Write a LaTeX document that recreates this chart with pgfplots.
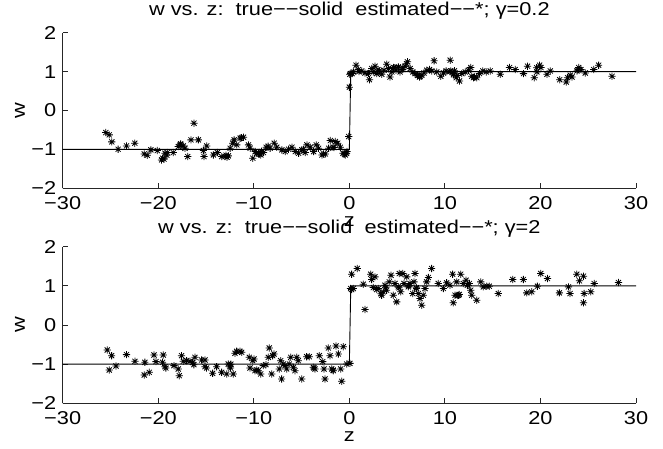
\documentclass[border=0pt]{standalone}
\usepackage{pgfplots}
\pgfplotsset{compat=1.18}
\usepackage{fontspec}
\setmainfont{Liberation Sans}[FakeStretch=1.17]

% MATLAB-like '*' marker (plus and cross)
\pgfdeclareplotmark{mstar}{%
  \pgfpathmoveto{\pgfqpoint{-\pgfplotmarksize}{0pt}}\pgfpathlineto{\pgfqpoint{\pgfplotmarksize}{0pt}}%
  \pgfpathmoveto{\pgfqpoint{0pt}{-\pgfplotmarksize}}\pgfpathlineto{\pgfqpoint{0pt}{\pgfplotmarksize}}%
  \pgfpathmoveto{\pgfqpoint{-.707\pgfplotmarksize}{-.707\pgfplotmarksize}}\pgfpathlineto{\pgfqpoint{.707\pgfplotmarksize}{.707\pgfplotmarksize}}%
  \pgfpathmoveto{\pgfqpoint{-.707\pgfplotmarksize}{.707\pgfplotmarksize}}\pgfpathlineto{\pgfqpoint{.707\pgfplotmarksize}{-.707\pgfplotmarksize}}%
  \pgfusepathqstroke}

\pgfplotstableread{
z w
-30 -1
0 -1
0.15 1
30 1
}\truedata

\pgfplotstableread{
z w
-25.49 -0.567
-25.13 -0.627
-24.86 -0.807
-24.20 -0.996
-23.32 -0.910
-22.45 -0.841
-21.47 -1.116
-21.15 -1.150
-20.77 -1.013
-20.10 -1.030
-19.65 -1.270
-19.55 -1.227
-19.40 -1.250
-19.30 -1.099
-19.10 -1.150
-19.06 -1.082
-18.43 -1.082
-17.90 -0.927
-17.70 -0.880
-17.66 -0.858
-17.38 -0.910
-17.20 -0.970
-16.92 -1.185
-16.57 -0.755
-16.26 -0.326
-15.80 -0.755
-15.28 -1.030
-15.21 -1.185
-14.93 -0.910
-14.23 -1.142
-13.81 -1.082
-13.36 -1.185
-13.01 -1.185
-12.90 -1.150
-12.80 -1.200
-12.66 -1.167
-12.48 -0.970
-12.20 -0.841
-12.06 -0.755
-11.78 -0.884
-11.43 -0.712
-11.30 -0.700
-11.08 -0.687
-10.56 -0.884
-10.38 -0.970
-10.10 -1.227
-9.86 -1.056
-9.70 -1.100
-9.51 -1.099
-9.40 -1.120
-9.27 -1.142
-9.20 -1.050
-8.99 -1.082
-8.71 -0.944
-8.50 -0.920
-8.29 -0.970
-7.87 -0.841
-7.59 -0.944
-7.06 -1.013
-6.71 -1.056
-6.36 -0.996
-6.01 -0.944
-5.66 -1.056
-5.31 -1.099
-4.97 -1.013
-4.80 -1.000
-4.62 -1.082
-4.44 -0.884
-4.09 -0.944
-3.74 -1.056
-3.46 -0.884
-3.22 -0.970
-2.87 -1.142
-2.70 -1.120
-2.52 -1.116
-2.17 -0.970
-1.99 -0.773
-1.71 -0.944
-1.60 -0.950
-1.47 -0.798
-1.22 -0.841
-0.94 -0.944
-0.66 -1.099
-0.50 -1.120
-0.42 -1.142
-0.30 -1.100
-0.24 -1.056
-0.07 -0.670
0.00 0.600
0.05 0.930
0.14 0.948
0.30 0.950
0.42 0.991
0.70 1.165
0.94 1.052
1.00 1.000
1.29 1.017
1.64 0.965
2.00 0.950
2.10 0.792
2.34 1.078
2.51 0.991
2.69 1.139
2.86 0.948
3.00 1.050
3.14 1.017
3.39 0.931
3.63 1.035
3.91 1.190
4.09 1.078
4.26 0.861
4.44 0.991
4.61 1.104
4.70 1.100
4.89 1.035
5.13 1.121
5.31 0.991
5.59 1.052
5.60 1.100
5.83 1.139
6.00 1.200
6.08 1.251
6.36 1.078
6.64 0.991
6.88 0.948
7.13 0.905
7.20 0.900
7.34 0.861
7.40 0.880
7.58 0.905
7.82 0.965
8.10 1.035
8.38 1.052
8.63 1.017
8.87 1.277
9.15 0.991
9.57 0.879
9.85 0.965
10.13 1.017
10.50 1.000
10.55 1.294
10.62 1.017
10.90 0.948
10.90 0.920
11.00 1.020
11.18 0.844
11.30 0.900
11.53 0.758
11.77 0.948
12.12 0.991
12.47 1.035
12.71 1.104
12.80 0.880
12.99 0.844
13.10 0.860
13.34 0.844
13.62 0.948
13.97 1.017
14.32 0.991
14.74 1.017
15.79 0.931
16.77 1.104
17.36 1.052
18.23 0.948
18.65 1.139
19.35 0.844
19.60 1.100
19.63 0.991
19.91 1.165
20.05 1.104
20.68 0.931
21.03 1.017
22.01 0.792
22.70 0.732
22.84 0.844
23.12 0.905
23.30 0.860
23.82 1.017
23.90 1.040
24.00 1.104
24.24 1.052
24.69 0.965
25.57 1.052
26.09 1.165
27.49 0.879
}\estA

\pgfplotstableread{
z w
-25.34 -0.638
-25.13 -1.149
-24.88 -0.783
-24.42 -1.047
-23.32 -0.757
-22.44 -0.928
-21.47 -1.277
-21.40 -0.953
-20.94 -1.209
-20.45 -0.766
-20.24 -0.936
-19.55 -0.953
-19.48 -0.766
-19.30 -1.064
-19.20 -1.098
-18.36 -1.038
-17.91 -1.123
-17.80 -1.294
-17.56 -0.783
-17.38 -0.928
-17.03 -0.911
-16.68 -0.928
-16.40 -0.953
-16.27 -1.013
-16.16 -0.826
-15.46 -0.894
-15.11 -0.894
-15.11 -1.064
-14.94 -1.098
-14.31 -1.234
-13.89 -1.064
-13.37 -1.209
-12.84 -1.251
-12.67 -0.996
-12.50 -1.064
-12.43 -1.098
-12.40 -1.000
-12.15 -1.251
-11.97 -0.723
-11.80 -0.672
-11.45 -0.672
-11.27 -0.698
-10.47 -0.826
-10.40 -1.098
-10.12 -0.911
-9.98 -0.868
-9.88 -1.166
-9.70 -1.150
-9.53 -1.166
-9.28 -1.251
-9.01 -1.038
-8.73 -1.013
-8.48 -0.826
-8.38 -0.587
-8.13 -1.251
-8.03 -0.783
-7.89 -0.740
-7.33 -1.123
-7.19 -0.911
-7.09 -1.379
-6.91 -0.996
-6.74 -1.038
-6.56 -1.123
-6.28 -0.996
-6.14 -0.826
-5.86 -1.081
-5.69 -1.166
-5.51 -0.826
-5.34 -0.911
-4.99 -1.379
-4.47 -0.809
-4.19 -0.809
-3.77 -1.081
-3.70 -1.100
-3.60 -1.123
-3.14 -0.783
-2.79 -0.936
-2.65 -1.123
-2.55 -1.379
-2.20 -0.587
-2.02 -0.783
-1.85 -1.123
-1.70 -1.150
-1.68 -1.166
-1.40 -0.536
-1.15 -0.740
-0.91 -1.123
-0.80 -1.438
-0.63 -0.553
-0.28 -0.996
0.06 -0.980
0.13 0.932
0.24 0.906
0.41 0.932
0.24 1.298
0.83 1.443
1.46 1.043
1.63 0.396
2.23 1.298
2.33 1.162
2.51 0.957
2.68 1.230
2.86 0.906
3.03 0.932
3.30 0.800
3.38 0.762
3.55 0.847
3.73 1.017
3.80 0.950
3.90 0.889
4.18 1.102
4.36 1.272
4.60 0.762
4.78 1.060
4.95 0.591
5.12 0.974
5.20 0.950
5.23 1.315
5.37 0.847
5.58 1.315
5.72 1.060
6.00 1.230
6.17 0.974
6.20 1.000
6.35 1.060
6.63 0.804
6.76 1.102
6.87 1.315
7.00 0.950
7.04 0.932
7.22 0.804
7.39 0.677
7.57 0.506
7.74 0.762
7.92 0.932
8.09 1.102
8.27 1.213
8.61 1.443
9.31 1.060
9.84 0.932
10.18 1.077
10.53 1.017
10.81 1.298
10.88 0.566
11.06 0.762
11.23 1.102
11.30 0.750
11.41 0.762
11.50 0.780
11.65 1.298
11.93 1.060
12.21 1.145
12.35 1.017
12.56 1.060
12.70 0.889
12.80 0.762
13.33 0.634
13.75 1.102
14.02 0.974
14.37 0.991
14.65 0.991
15.59 0.804
17.10 1.162
18.21 1.162
18.56 0.821
19.08 0.847
19.68 0.991
20.03 1.315
20.73 1.187
21.98 0.821
22.93 0.974
23.10 0.804
23.80 1.298
24.08 1.128
24.50 1.247
24.50 0.566
24.57 0.804
25.27 0.847
25.62 1.060
28.16 1.085
}\estB

\pgfplotsset{
  mplot/.style={
    scale only axis,
    width=573.3pt,
    anchor=south west,
    xmin=-30, xmax=30, ymin=-2, ymax=2,
    axis lines=left,
    axis line style={-, line width=0.9pt, black!85},
    tick style={line width=0.9pt, black!85},
    major tick length=5.5pt,
    tick align=inside,
    xtick={-30,-20,-10,0,10,20,30},
    xticklabels={−30,−20,−10,0,10,20,30},
    ytick={-2,-1,0,1,2},
    yticklabels={−2,−1,0,1,2},
    xticklabel style={yshift=-1.5pt},
    xlabel={z},
    ylabel={w},
    every axis y label/.style={at={(axis description cs:0,0.5)}, xshift=-42.7pt, rotate=90, anchor=center},
    every axis x label/.style={at={(axis description cs:0.5,0)}, yshift=-33.7pt, anchor=center},
    every axis title shift=0pt,
    clip=false,
  },
  truestyle/.style={black, line width=0.9pt, no marks},
  eststyle/.style={only marks, mark=mstar, mark size=3.6pt, mark options={line width=0.8pt, black}},
}

\begin{document}
\fontsize{18.6pt}{22pt}\selectfont
\begin{tikzpicture}[x=1pt,y=1pt]
\useasboundingbox (0,0) rectangle (663,448);

\begin{axis}[mplot, at={(62.7pt,259.7pt)}, height=155.6pt,
  title={w vs. z:\ \ true−−solid\ \ estimated−−*; γ=0.2},
  title style={at={(axis description cs:0.5,1)}, yshift=21.7pt, anchor=center}]
\addplot[truestyle] table[x=z,y=w] {\truedata};
\addplot[eststyle] table[x=z,y=w] {\estA};
\end{axis}

\begin{axis}[mplot, at={(62.7pt,44.7pt)}, height=156.6pt,
  title={w vs. z:\ \ true−−solid\ \ estimated−−*; γ=2},
  title style={at={(axis description cs:0.5,1)}, yshift=18pt, anchor=center}]
\addplot[truestyle] table[x=z,y=w] {\truedata};
\addplot[eststyle] table[x=z,y=w] {\estB};
\end{axis}
\end{tikzpicture}
\end{document}
